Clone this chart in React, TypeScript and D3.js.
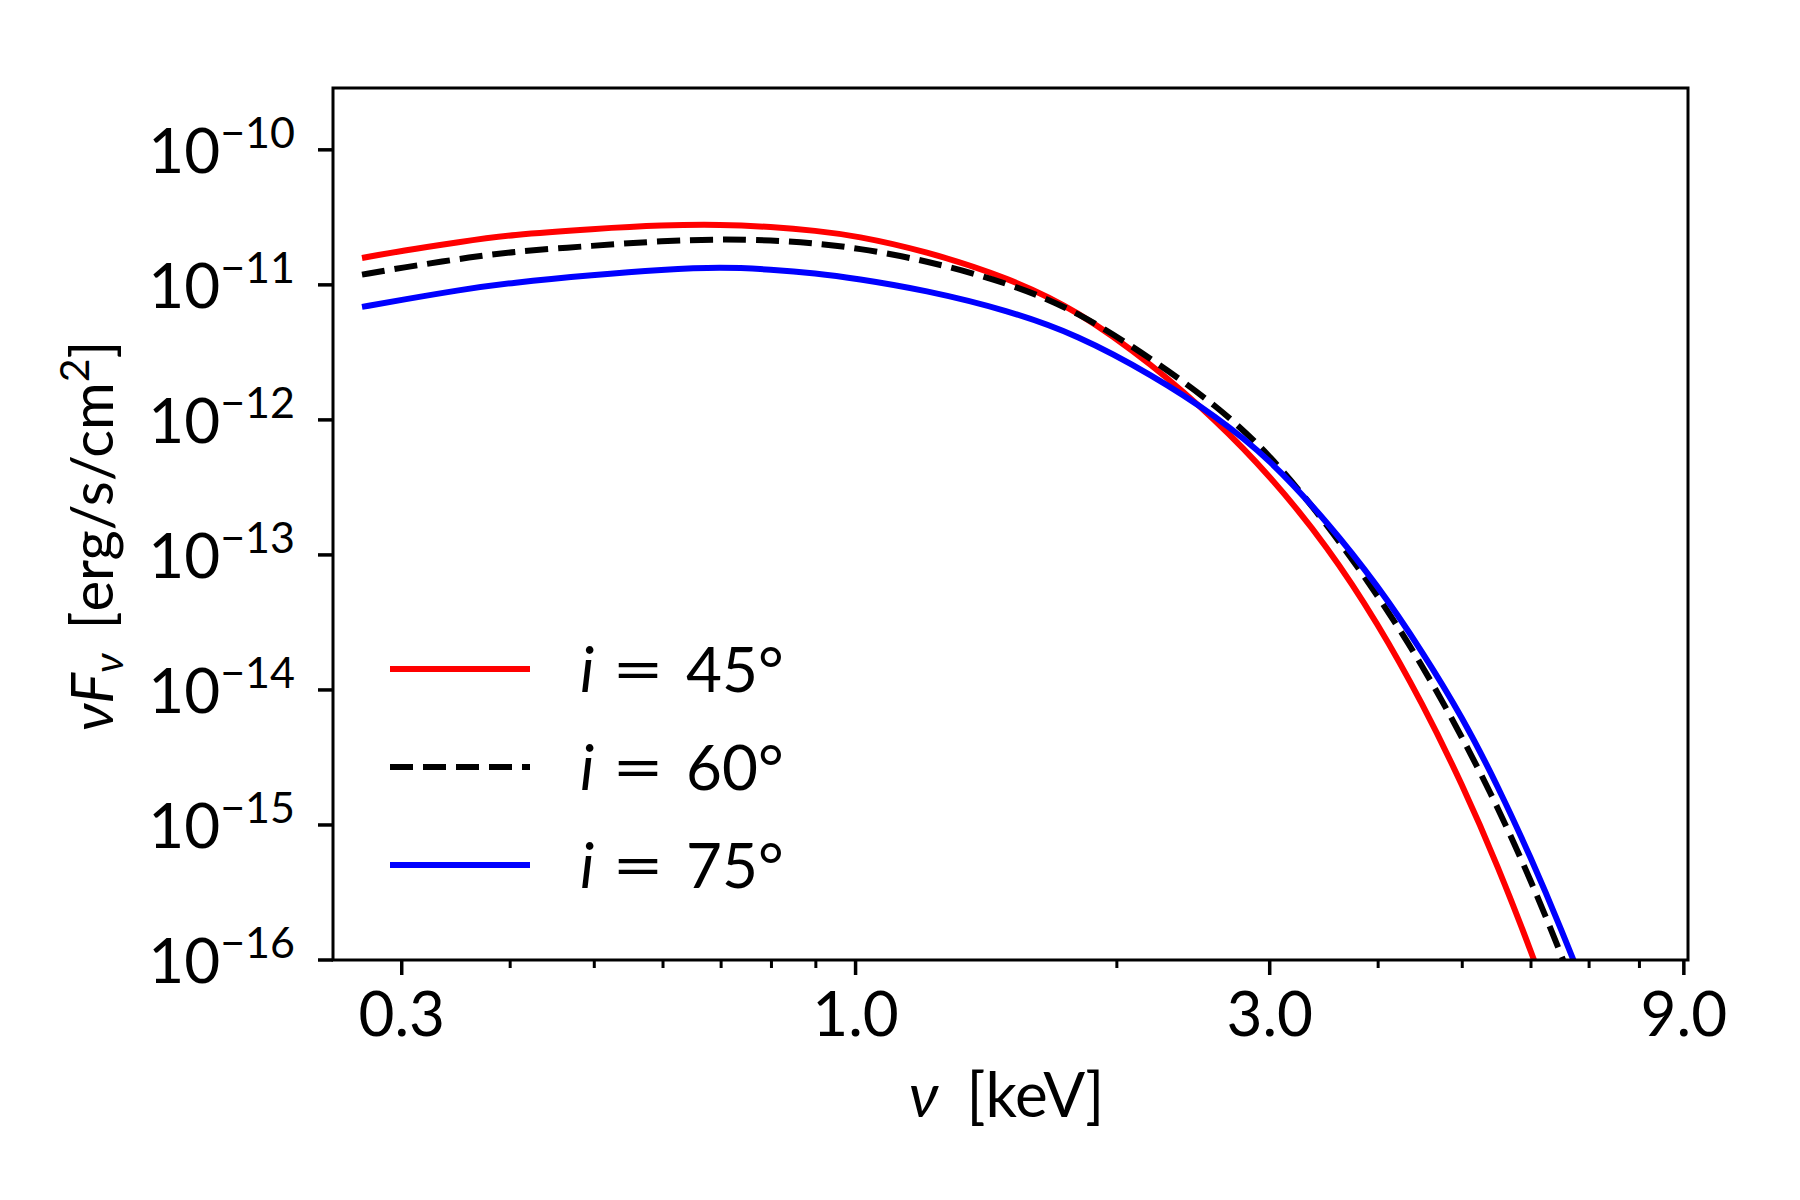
import React, { useEffect, useRef } from 'react';
import * as d3 from 'd3';

// photon energy grid [keV]
const energy = [0.27, 0.3, 0.35, 0.4, 0.5, 0.6, 0.7, 0.8, 0.9, 1.0, 1.2, 1.5, 1.8, 2.2, 2.6, 3.0, 3.5, 4.0, 4.5, 5.0, 5.5, 6.0, 6.5, 7.0];

// nu F_nu [erg/s/cm^2] for each inclination
const flux45 = [1.58e-11, 1.79e-11, 2.08e-11, 2.35e-11, 2.6e-11, 2.77e-11, 2.8e-11, 2.69e-11, 2.52e-11, 2.31e-11, 1.79e-11, 1.13e-11, 6.5e-12, 2.55e-12, 1.0e-12, 3.89e-13, 1.15e-13, 3.09e-14, 7.94e-15, 2.0e-15, 4.9e-16, 1.17e-16, 2.8e-17, 6.8e-18];
const flux60 = [1.19e-11, 1.34e-11, 1.56e-11, 1.76e-11, 1.95e-11, 2.12e-11, 2.18e-11, 2.14e-11, 2.03e-11, 1.88e-11, 1.53e-11, 1.035e-11, 6.4e-12, 2.8e-12, 1.29e-12, 5.6e-13, 1.66e-13, 5.0e-14, 1.52e-14, 4.47e-15, 1.34e-15, 3.86e-16, 1.11e-16, 3.1e-17];
const flux75 = [6.87e-12, 7.74e-12, 9.18e-12, 1.035e-11, 1.19e-11, 1.3e-11, 1.355e-11, 1.3e-11, 1.22e-11, 1.115e-11, 9.18e-12, 6.46e-12, 4.27e-12, 2.14e-12, 1.07e-12, 5.13e-13, 1.74e-13, 5.89e-14, 1.91e-14, 6.31e-15, 1.92e-15, 5.71e-16, 1.7e-16, 5.1e-17];

const inclinations = ['45', '60', '75'];
const xTicks = [0.3, 1.0, 3.0, 9.0];
const xMinorTicks = [0.4, 0.5, 0.6, 0.7, 0.8, 0.9, 2, 4, 5, 6, 7, 8];
const yExponents = [-10, -11, -12, -13, -14, -15, -16];

const FONT = "Lato, 'DejaVu Sans', sans-serif";

const SpectrumChart: React.FC = () => {
  const ref = useRef<SVGSVGElement>(null);

  useEffect(() => {
    const W = 1800, H = 1200;
    const margin = { top: 88, right: 112, bottom: 240, left: 333 };
    const width = W - margin.left - margin.right;
    const height = H - margin.top - margin.bottom;

    const root = d3.select(ref.current)
      .attr('width', W)
      .attr('height', H)
      .style('position', 'absolute')
      .style('left', 0)
      .style('top', 0)
      .style('background', '#fff');
    root.selectAll('*').remove();

    const svg = root.append('g')
      .attr('transform', `translate(${margin.left},${margin.top})`);

    const x = d3.scaleLog().domain([0.25, 9.1]).range([0, width]);
    const y = d3.scaleLog().domain([1e-16, 2.87e-10]).range([height, 0]);

    svg.append('clipPath').attr('id', 'plot-clip')
      .append('rect').attr('width', width).attr('height', height);

    const series = [
      { values: flux45, color: '#ff0000', dash: null },
      { values: flux60, color: '#000000', dash: '23,10' },
      { values: flux75, color: '#0000ff', dash: null },
    ];

    const line = d3.line<number>()
      .x((_, i) => x(energy[i]))
      .y(d => y(d))
      .curve(d3.curveBasis);

    const lines = svg.append('g').attr('clip-path', 'url(#plot-clip)');
    series.forEach(s => {
      lines.append('path')
        .datum(s.values)
        .attr('d', line)
        .attr('fill', 'none')
        .attr('stroke', s.color)
        .attr('stroke-width', 6)
        .attr('stroke-dasharray', s.dash)
        .attr('stroke-linejoin', 'round');
    });

    // x ticks
    const xAxis = svg.append('g').attr('transform', `translate(0,${height})`);
    xAxis.selectAll('line.minor').data(xMinorTicks).join('line')
      .attr('class', 'minor')
      .attr('x1', d => x(d)).attr('x2', d => x(d))
      .attr('y1', 0).attr('y2', 8)
      .attr('stroke', '#000').attr('stroke-width', 3);
    xAxis.selectAll('line.major').data(xTicks).join('line')
      .attr('class', 'major')
      .attr('x1', d => x(d)).attr('x2', d => x(d))
      .attr('y1', 0).attr('y2', 15)
      .attr('stroke', '#000').attr('stroke-width', 3.5);
    xAxis.selectAll('text').data(xTicks).join('text')
      .attr('x', d => x(d))
      .attr('y', 76)
      .attr('text-anchor', 'middle')
      .attr('font-family', FONT)
      .attr('font-size', 62)
      .text(d => d.toFixed(1));

    // y ticks
    const yAxis = svg.append('g');
    yAxis.selectAll('line').data(yExponents).join('line')
      .attr('x1', -15).attr('x2', 0)
      .attr('y1', d => y(Math.pow(10, d))).attr('y2', d => y(Math.pow(10, d)))
      .attr('stroke', '#000').attr('stroke-width', 3.5);
    const yLabels = yAxis.selectAll('text').data(yExponents).join('text')
      .attr('x', -38)
      .attr('y', d => y(Math.pow(10, d)) + 23)
      .attr('text-anchor', 'end')
      .attr('font-family', FONT)
      .attr('font-size', 62);
    yLabels.append('tspan').text('10');
    yLabels.append('tspan').attr('dy', -25).attr('font-size', 43)
      .text(d => `\u2212${Math.abs(d)}`);

    // frame
    svg.append('rect')
      .attr('width', width).attr('height', height)
      .attr('fill', 'none').attr('stroke', '#000').attr('stroke-width', 3);

    // legend
    const legend = svg.append('g').attr('transform', 'translate(57,581)');
    series.forEach((s, i) => {
      const g = legend.append('g').attr('transform', `translate(0,${i * 98})`);
      g.append('line')
        .attr('x1', 0).attr('x2', 140)
        .attr('stroke', s.color).attr('stroke-width', 6)
        .attr('stroke-dasharray', s.dash);
      const txt = (tx: number) => g.append('text')
        .attr('x', tx).attr('y', 23)
        .attr('font-family', FONT)
        .attr('font-size', 62);
      txt(190).attr('font-style', 'italic').text('i');
      txt(222).attr('textLength', 52).attr('lengthAdjust', 'spacingAndGlyphs').text('=');
      txt(296).text(`${inclinations[i]}\u00b0`);
    });

    // axis labels
    const xl = svg.append('text')
      .attr('x', width / 2 - 4)
      .attr('y', height + 157)
      .attr('text-anchor', 'middle')
      .attr('font-family', FONT)
      .attr('font-size', 62);
    xl.append('tspan').attr('font-style', 'italic').text('\u03bd');
    xl.append('tspan').attr('dx', 28).text('[keV]');

    const yl = svg.append('text')
      .attr('transform', `translate(${113 - margin.left},${536 - margin.top}) rotate(-90)`)
      .attr('text-anchor', 'middle')
      .attr('font-family', FONT)
      .attr('font-size', 58);
    yl.append('tspan').attr('font-style', 'italic').text('\u03bdF');
    yl.append('tspan').attr('font-style', 'italic').attr('font-size', 41).attr('dy', 10).text('\u03bd');
    yl.append('tspan').attr('dy', -10).attr('dx', 24).text('[erg/s/cm');
    yl.append('tspan').attr('dy', -24).attr('font-size', 41).text('2');
    yl.append('tspan').attr('dy', 24).text(']');
  }, []);

  return <svg ref={ref} />;
};

export default function App() {
  return <SpectrumChart />;
}
